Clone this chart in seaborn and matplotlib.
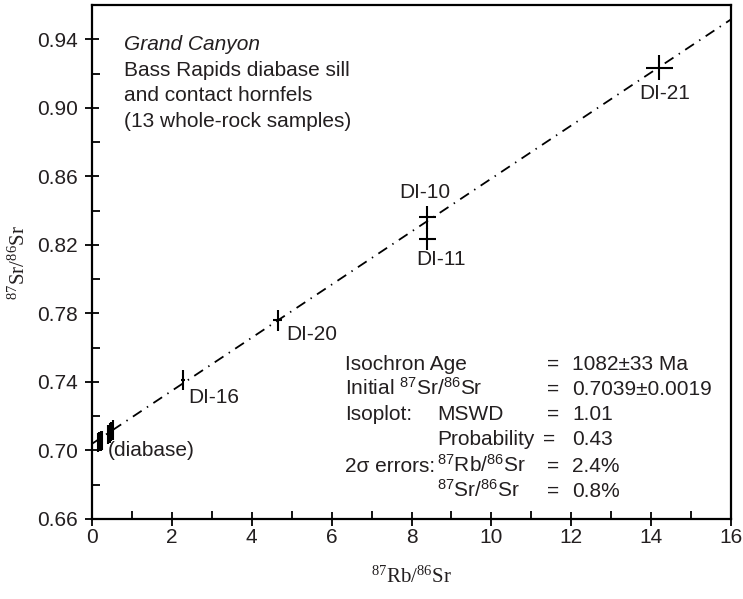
import matplotlib
matplotlib.use("Agg")
import matplotlib.pyplot as plt
import seaborn as sns
import pandas as pd

# ---------------- data ----------------
samples = ["DI-21", "DI-10", "DI-11", "DI-20", "DI-16",
           "D1", "D2", "D3", "D4", "D5", "D6", "D7", "D8"]
rb86 = [14.20, 8.40, 8.40, 4.65, 2.28,
        0.14, 0.18, 0.22, 0.25, 0.40, 0.44, 0.48, 0.52]
sr86 = [0.9235, 0.836, 0.8235, 0.776, 0.741,
        0.7046, 0.7052, 0.7056, 0.7060, 0.7092, 0.7102, 0.7110, 0.7118]
rb_err_pct = 2.4   # 2 sigma, %
sr_err_pct = 0.8   # 2 sigma, %
iso_x = [0.0, 16.0]
iso_y = [0.7039, 0.9516]
labels = ["DI-21", "DI-10", "DI-11", "DI-20", "DI-16"]
label_offsets = [(-20, -26), (-28, 25), (-11, -21), (9, -14), (5, -17)]  # pixels
xticks = list(range(0, 17, 2))
yticks = [0.66, 0.70, 0.74, 0.78, 0.82, 0.86, 0.90, 0.94]

df = pd.DataFrame({"sample": samples, "rb": rb86, "sr": sr86})
df["xerr"] = df["rb"] * rb_err_pct / 100
df["yerr"] = df["sr"] * sr_err_pct / 100

# ---------------- style ----------------
sns.set_theme(style="ticks")
plt.rcParams["font.family"] = ["Liberation Sans", "DejaVu Sans"]
plt.rcParams["mathtext.fontset"] = "custom"
plt.rcParams["mathtext.rm"] = "Liberation Serif"
plt.rcParams["mathtext.sf"] = "Liberation Sans"
plt.rcParams["mathtext.it"] = "Liberation Serif:italic"
FS = 15
TXT = "#231f20"

W, H = 743, 599
fig = plt.figure(figsize=(W / 100, H / 100), dpi=100)
ax = fig.add_axes([92 / W, 1 - 519 / H, 639 / W, 514 / H])

sns.lineplot(x=iso_x, y=iso_y, ax=ax, color="black", lw=1.3,
             linestyle=(0, (5.8, 3.5, 0.8, 3.5)))
ax.errorbar(df["rb"], df["sr"], xerr=df["xerr"], yerr=df["yerr"], fmt="none",
            ecolor="black", elinewidth=1.5, capsize=0)

for lab, (dx, dy) in zip(labels, label_offsets):
    r = df[df["sample"] == lab].iloc[0]
    ax.annotate(lab, (r["rb"], r["sr"]), xytext=(dx, dy), textcoords="offset pixels",
                ha="left", va="center", fontsize=FS, color=TXT)
ax.text(0.4, 0.700, "(diabase)", ha="left", va="center", fontsize=FS, color=TXT)

ax.set_xlim(0, 16)
ax.set_ylim(0.66, 0.96)
ax.set_xticks(xticks)
ax.set_xticklabels([str(t) for t in xticks])
ax.set_yticks(yticks)
ax.set_yticklabels([f"{t:.2f}" for t in yticks])
ax.set_xticks(range(1, 16, 2), minor=True)
ax.set_yticks([0.68, 0.72, 0.76, 0.80, 0.84, 0.88, 0.92], minor=True)
ax.tick_params(which="major", direction="inout", length=9.5, width=1.3,
               labelsize=FS, labelcolor=TXT, color="black")
ax.tick_params(axis="y", which="major", pad=5.5)
ax.tick_params(axis="x", which="major", pad=2)
ax.tick_params(which="minor", direction="in", length=6, width=1.3, color="black")
for s in ax.spines.values():
    s.set_visible(True)
    s.set_linewidth(1.6)
    s.set_color("black")

ax.set_xlabel(r"$^{87}\mathrm{Rb/}^{86}\mathrm{Sr}$", fontsize=FS, va="center", color=TXT)
ax.xaxis.set_label_coords(0.5, (519 - 576) / 514)
ax.set_ylabel(r"$^{87}\mathrm{Sr/}^{86}\mathrm{Sr}$", fontsize=FS, va="center", color=TXT)
ax.yaxis.set_label_coords((18 - 92) / 639, 0.5)


def ptext(x, y, s, **kw):
    fig.text(x / W, 1 - y / H, s, va="baseline", fontsize=FS, color=TXT, **kw)


ptext(124, 50, "Grand Canyon", style="italic")
ptext(124, 76, "Bass Rapids diabase sill")
ptext(124, 101, "and contact hornfels")
ptext(124, 127, "(13 whole-rock samples)")

sup_sr = r"$^{\mathsf{87}}\mathsf{Sr/}^{\mathsf{86}}\mathsf{Sr}$"
sup_rb = r"$^{\mathsf{87}}\mathsf{Rb/}^{\mathsf{86}}\mathsf{Sr}$"
rows = [
    (370, "Isochron Age", "", 547, "1082±33 Ma"),
    (395, "Initial " + sup_sr, "", 547, "0.7039±0.0019"),
    (420, "Isoplot:", "MSWD", 547, "1.01"),
    (445, "", "Probability", 543, "0.43"),
    (472, "2σ errors:", sup_rb, 547, "2.4%"),
    (497, "", sup_sr, 547, "0.8%"),
]
for yb, c0, c1, xeq, val in rows:
    if c0:
        ptext(345, yb, c0)
    if c1:
        ptext(437, yb, c1)
    ptext(xeq, yb, "=")
    ptext(572, yb, val)

fig.savefig("out.png", dpi=100)
